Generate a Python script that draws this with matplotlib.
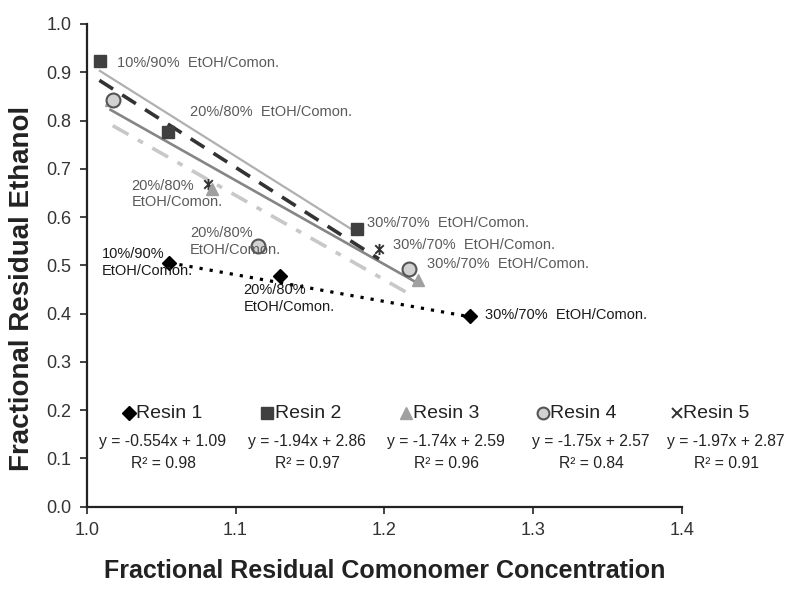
import matplotlib
matplotlib.use("Agg")
import matplotlib.pyplot as plt
from matplotlib.path import Path
from matplotlib.lines import Line2D
import numpy as np

plt.rcParams['font.family'] = ['Liberation Sans', 'DejaVu Sans']

# ---- data ----
r1_x = [1.0555, 1.130, 1.2576]
r1_y = [0.5055, 0.478, 0.395]
r2_x = [1.0089, 1.0548, 1.1815]
r2_y = [0.924, 0.777, 0.575]
r3_x = [1.016, 1.084, 1.2227]
r3_y = [0.843, 0.658, 0.470]
r4_x = [1.0175, 1.1153, 1.2166]
r4_y = [0.843, 0.540, 0.492]
r5_x = [1.0085, 1.0817, 1.1964]
r5_y = [0.922, 0.669, 0.534]

slopes = [-0.554, -1.94, -1.74, -1.75, -1.97]
intercepts = [1.09, 2.86, 2.59, 2.57, 2.87]
r2_vals = ["0.98", "0.97", "0.96", "0.84", "0.91"]
names = ["Resin 1", "Resin 2", "Resin 3", "Resin 4", "Resin 5"]

x_ticks = [1.0, 1.1, 1.2, 1.3, 1.4]
y_ticks = [0.0, 0.1, 0.2, 0.3, 0.4, 0.5, 0.6, 0.7, 0.8, 0.9, 1.0]

# point labels: (text, x, y, color)
labels = [
    ("10%/90%  EtOH/Comon.", 1.0202, 0.919, "#5a5a5a"),
    ("20%/80%  EtOH/Comon.", 1.0694, 0.818, "#5a5a5a"),
    ("20%/80%\nEtOH/Comon.", 1.0302, 0.648, "#5a5a5a"),
    ("30%/70%  EtOH/Comon.", 1.1882, 0.588, "#5a5a5a"),
    ("30%/70%  EtOH/Comon.", 1.2060, 0.542, "#5a5a5a"),
    ("30%/70%  EtOH/Comon.", 1.2285, 0.502, "#5a5a5a"),
    ("30%/70%  EtOH/Comon.", 1.2677, 0.397, "#1a1a1a"),
    ("10%/90%\nEtOH/Comon.", 1.0101, 0.506, "#1a1a1a"),
    ("20%/80%\nEtOH/Comon.", 1.0694, 0.5486, "#5a5a5a"),
    ("20%/80%\nEtOH/Comon.", 1.1052, 0.431, "#1a1a1a"),
]

# ---- figure ----
W, H = 800.0, 592.0
fig = plt.figure(figsize=(8.0, 5.92), dpi=100)
ax = fig.add_axes([0.1084, 0.1441, 0.8525 - 0.1084, 0.8154])

ast = Path([(-1, -1), (1, 1), (-1, 1), (1, -1), (0, -1.3), (0, 1.3)],
           [Path.MOVETO, Path.LINETO, Path.MOVETO, Path.LINETO, Path.MOVETO, Path.LINETO])

def trend(xs, k):
    xx = np.array([min(xs), max(xs)])
    return xx, slopes[k] * xx + intercepts[k]

# trend lines
xx, yy = trend(r1_x, 0)
ax.plot(xx, yy, color="black", lw=2.3, ls=(0, (1.0, 2.2)), zorder=2)
xx, yy = trend(r2_x, 1)
ax.plot(xx, yy, color="#b0b0b0", lw=1.6, ls="-", zorder=2)
xx, yy = trend(r3_x, 2)
ax.plot(xx, yy, color="#858585", lw=1.9, ls="-", zorder=2)
xx, yy = trend(r4_x, 3)
ax.plot(xx, yy, color="#c8c8c8", lw=2.6, ls=(0, (5, 3, 1.6, 3)), zorder=2)
xx, yy = trend(r5_x, 4)
ax.plot(xx, yy, color="#333333", lw=2.6, ls=(0, (4.5, 3)), zorder=2)

# markers
ax.plot(r5_x, r5_y, ls="none", marker=ast, ms=8, mec="#333333", mew=1.4, zorder=3)
ax.plot(r3_x, r3_y, ls="none", marker="^", ms=9, color="#a0a0a0", zorder=3)
ax.plot(r2_x, r2_y, ls="none", marker="s", ms=9, color="#404040", zorder=4)
ax.plot(r4_x, r4_y, ls="none", marker="o", ms=10, mfc="#d2d2d2", mec="#555555", mew=1.5, zorder=5)
ax.plot(r1_x, r1_y, ls="none", marker="D", ms=7.5, color="black", zorder=5)

for t, x, y, c in labels:
    ax.text(x, y, t, color=c, fontsize=10.5, ha="left", va="center", linespacing=1.25, zorder=6)

ax.set_xlim(1.0, 1.4)
ax.set_ylim(0.0, 1.0)
ax.set_xticks(x_ticks)
ax.set_yticks(y_ticks)
ax.set_xticklabels([f"{v:.1f}" for v in x_ticks])
ax.set_yticklabels([f"{v:.1f}" for v in y_ticks])
ax.tick_params(axis="both", labelsize=13, labelcolor="#333333", color="#222222",
               length=5, width=1.2, direction="out", pad=6)
for s in ["top", "right"]:
    ax.spines[s].set_visible(False)
for s in ["left", "bottom"]:
    ax.spines[s].set_linewidth(1.6)
    ax.spines[s].set_color("#222222")

fig.text(384.5 / W, 1 - 571 / H, "Fractional Residual Comonomer Concentration",
         fontsize=18, fontweight="bold", color="#222222", ha="center", va="center")
fig.text(22 / W, 1 - 288 / H, "Fractional Residual Ethanol", rotation=90,
         fontsize=20, fontweight="bold", color="#222222", ha="center", va="center")

# legend block (figure pixel positions -> fractions)
mk_x = [129, 267, 406, 543, 677]
txt_x = [136, 275, 413, 550, 683]
eq_x = [163, 307, 446, 591, 726]
leg_y, eq_y, r_y = 413, 441.7, 464
mk_styles = [
    dict(marker="D", ms=7, color="black"),
    dict(marker="s", ms=8.5, color="#404040"),
    dict(marker="^", ms=8.5, color="#a0a0a0"),
    dict(marker="o", ms=8.5, mfc="#d2d2d2", mec="#555555", mew=1.5, color="#555555"),
    dict(marker="x", ms=7.5, mew=1.4, color="#333333"),
]
for i in range(5):
    fig.add_artist(Line2D([mk_x[i] / W], [1 - leg_y / H], ls="none", transform=fig.transFigure, **mk_styles[i]))
    fig.text(txt_x[i] / W, 1 - leg_y / H, names[i], fontsize=14, ha="left", va="center", color="#222222")
    sgn = "+" if intercepts[i] >= 0 else "-"
    eq = f"y = {slopes[i]:g}x {sgn} {abs(intercepts[i]):g}"
    fig.text(eq_x[i] / W, 1 - eq_y / H, eq, fontsize=11.3, ha="center", va="center", color="#222222")
    fig.text(eq_x[i] / W, 1 - r_y / H, f"R\u00b2 = {r2_vals[i]}", fontsize=11.3, ha="center", va="center", color="#222222")

fig.savefig("out.png", dpi=100)
